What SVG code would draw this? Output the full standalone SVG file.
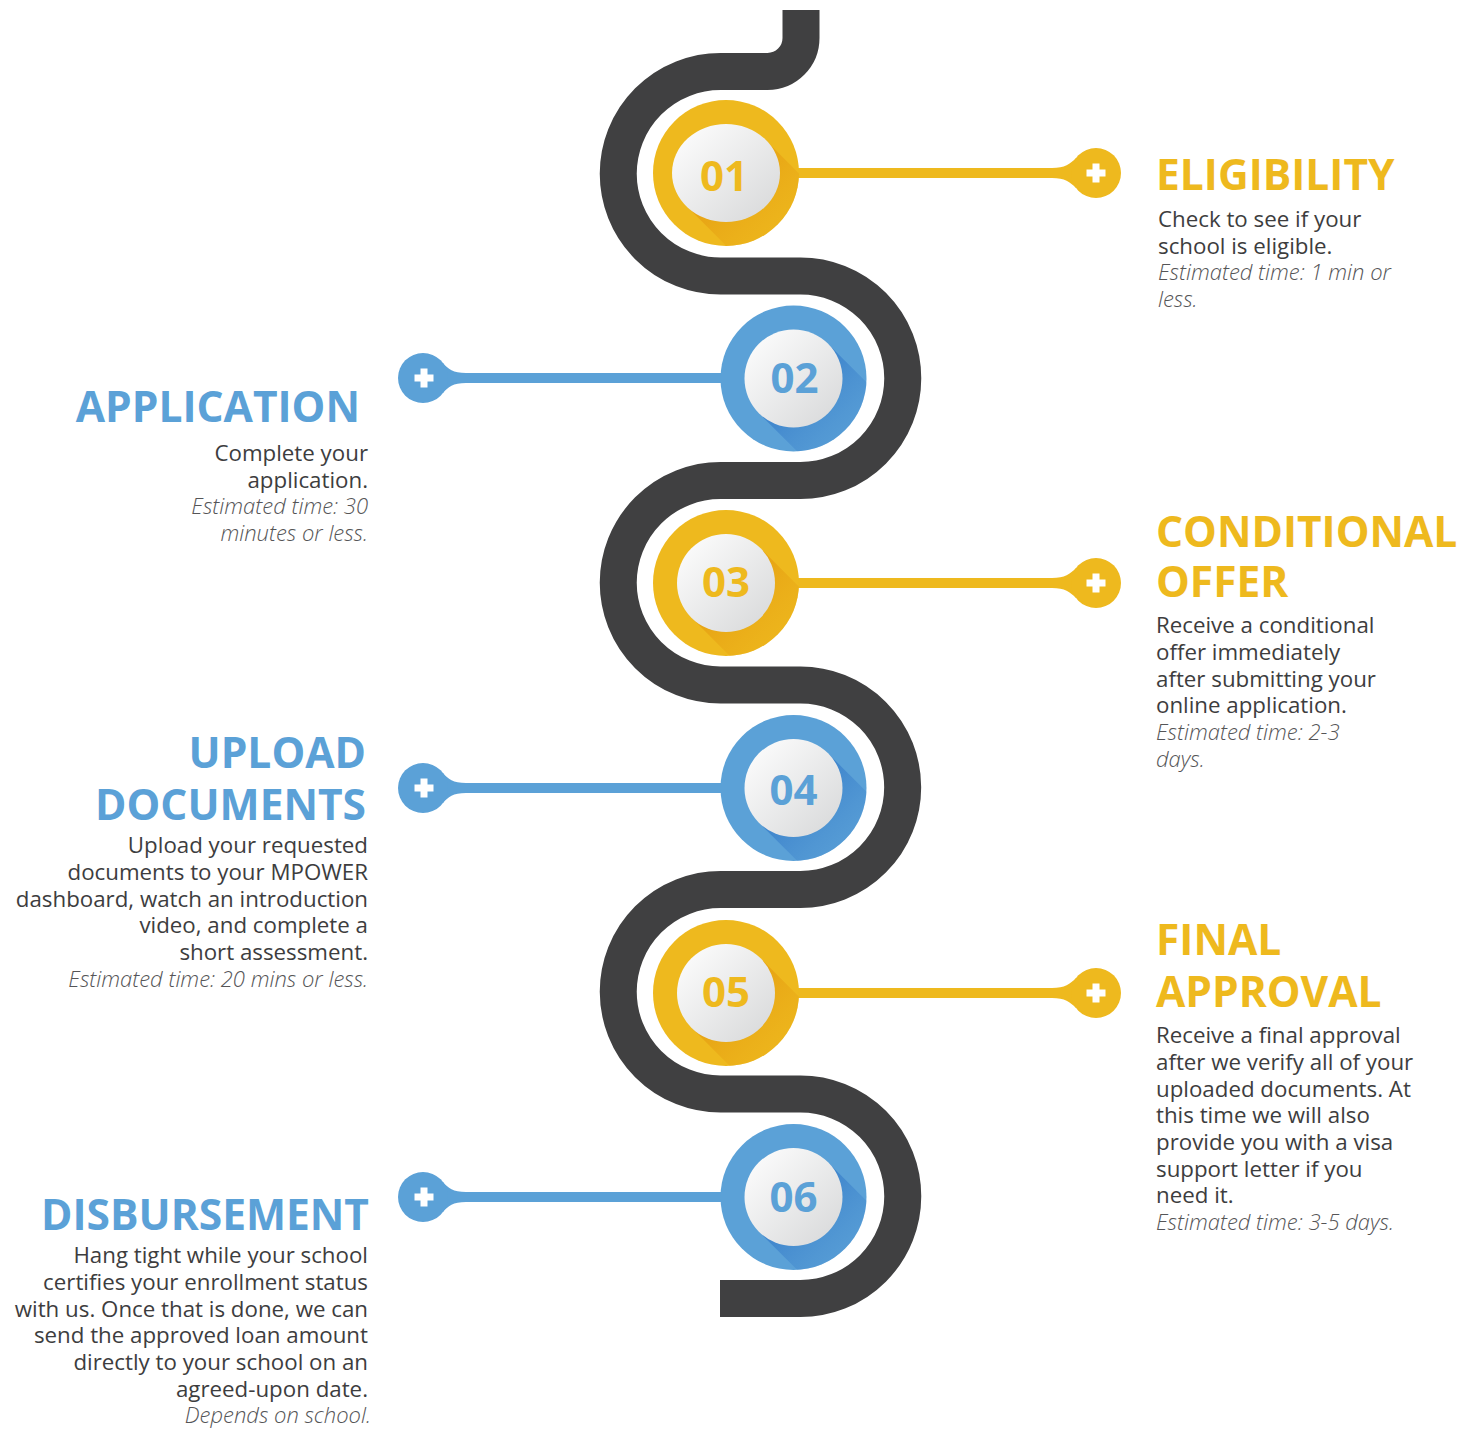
<svg xmlns="http://www.w3.org/2000/svg" width="1464" height="1431" viewBox="0 0 1464 1431">
<style>
.h{font-family:"Open Sans","Liberation Sans",sans-serif;font-weight:700;font-size:42.5px}
.y{fill:#EEB91E}
.b{fill:#5BA1D7}
.t{font-family:"Open Sans","Liberation Sans",sans-serif;font-size:22.3px;fill:#3d3d3e}
.i{font-family:"Open Sans","Liberation Sans",sans-serif;font-size:22px;font-style:italic;font-weight:300;fill:#555557}
.num{font-family:"Open Sans","Liberation Sans",sans-serif;font-weight:700;font-size:42px;text-anchor:middle}
.r{text-anchor:end}
.plus{fill:#fff}
</style>
<defs>
<clipPath id="ring" clipPathUnits="userSpaceOnUse"><circle cx="0" cy="0" r="73"/></clipPath>
<linearGradient id="wg" x1="0" y1="0" x2="1" y2="1">
<stop offset="0" stop-color="#ffffff"/><stop offset="1" stop-color="#d6d7d8"/>
</linearGradient>
<linearGradient id="sy" x1="0" y1="0" x2="1" y2="1">
<stop offset="0.2" stop-color="#E49A10" stop-opacity="0.9"/><stop offset="0.85" stop-color="#EEB91E" stop-opacity="0"/>
</linearGradient>
<linearGradient id="sb" x1="0" y1="0" x2="1" y2="1">
<stop offset="0.2" stop-color="#2E74C6" stop-opacity="0.8"/><stop offset="0.85" stop-color="#5BA1D7" stop-opacity="0"/>
</linearGradient>
<g id="plusmark"><rect x="-9.5" y="-3.5" width="19" height="7"/><rect x="-3.5" y="-9.5" width="7" height="19"/></g>
</defs>
<rect width="1464" height="1431" fill="#fff"/>
<g id="snake">
<path d="M 801 10 V 38 A 33.5 33.5 0 0 1 767.5 71.5 H 720.5 A 102.25 102.25 0 0 0 720.5 276 H 800.5 A 102.25 102.25 0 0 1 800.5 480.5 H 720.5 A 102.25 102.25 0 0 0 720.5 685 H 800.5 A 102.25 102.25 0 0 1 800.5 889.5 H 720.5 A 102.25 102.25 0 0 0 720.5 1094 H 800.5 A 102.25 102.25 0 0 1 800.5 1298.5 H 720" fill="none" stroke="#404041" stroke-width="37"/>
</g>
<g id="connectors">
<g class="y">
<rect x="726" y="168" width="370" height="10"/>
<path d="M 1052 168 C 1065 168 1070 164 1076 158 L 1076 188 C 1070 182 1065 178 1052 178 Z"/>
<rect x="726" y="578" width="370" height="10"/>
<path d="M 1052 578 C 1065 578 1070 574 1076 568 L 1076 598 C 1070 592 1065 588 1052 588 Z"/>
<rect x="726" y="988" width="370" height="10"/>
<path d="M 1052 988 C 1065 988 1070 984 1076 978 L 1076 1008 C 1070 1002 1065 998 1052 998 Z"/>
</g>
<g class="b">
<rect x="423" y="373" width="370" height="10"/>
<path d="M 466 373 C 453 373 448 369 443 363 L 443 393 C 448 387 453 383 466 383 Z"/>
<rect x="423" y="783" width="370" height="10"/>
<path d="M 466 783 C 453 783 448 779 443 773 L 443 803 C 448 797 453 793 466 793 Z"/>
<rect x="423" y="1192" width="370" height="10"/>
<path d="M 466 1192 C 453 1192 448 1188 443 1182 L 443 1212 C 448 1206 453 1202 466 1202 Z"/>
</g>
</g>
<g id="step1">
<g transform="translate(726,173)">
<circle r="73" class="y"/>
<polygon points="38,-34.6 -38,34.6 42,114.6 118,45.4" fill="url(#sy)" clip-path="url(#ring)"/>
<ellipse rx="54" ry="49" fill="url(#wg)"/>
<text class="num y" x="-2" y="18">01</text>
</g>
<circle cx="1096" cy="173" r="25" class="y"/>
<use href="#plusmark" x="1096" y="173" class="plus"/>
<text class="h y" x="1156" y="190">ELIGIBILITY</text>
<text class="t" x="1158" y="227">Check to see if your</text>
<text class="t" x="1158" y="254">school is eligible.</text>
<text class="i" x="1158" y="280">Estimated time: 1 min or</text>
<text class="i" x="1158" y="307">less.</text>
</g>
<g id="step2">
<g transform="translate(793.5,378.5)">
<circle r="73" class="b"/>
<polygon points="34.6,-34.6 -34.6,34.6 45.4,114.6 114.6,45.4" fill="url(#sb)" clip-path="url(#ring)"/>
<circle r="49" fill="url(#wg)"/>
<text class="num b" x="1" y="14">02</text>
</g>
<circle cx="423" cy="378" r="25" class="b"/>
<use href="#plusmark" x="424" y="378" class="plus"/>
<text class="h b r" x="360" y="422">APPLICATION</text>
<text class="t r" x="368" y="461">Complete your</text>
<text class="t r" x="368" y="488">application.</text>
<text class="i r" x="368" y="514">Estimated time: 30</text>
<text class="i r" x="368" y="541">minutes or less.</text>
</g>
<g id="step3">
<g transform="translate(726,583)">
<circle r="73" class="y"/>
<polygon points="34.6,-34.6 -34.6,34.6 45.4,114.6 114.6,45.4" fill="url(#sy)" clip-path="url(#ring)"/>
<circle r="49" fill="url(#wg)"/>
<text class="num y" x="0" y="14">03</text>
</g>
<circle cx="1096" cy="583" r="25" class="y"/>
<use href="#plusmark" x="1096" y="583" class="plus"/>
<text class="h y" x="1156" y="547">CONDITIONAL</text>
<text class="h y" x="1156" y="597">OFFER</text>
<text class="t" x="1156" y="633">Receive a conditional</text>
<text class="t" x="1156" y="660">offer immediately</text>
<text class="t" x="1156" y="687">after submitting your</text>
<text class="t" x="1156" y="713">online application.</text>
<text class="i" x="1156" y="740">Estimated time: 2-3</text>
<text class="i" x="1156" y="767">days.</text>
</g>
<g id="step4">
<g transform="translate(793.5,788)">
<circle r="73" class="b"/>
<polygon points="34.6,-34.6 -34.6,34.6 45.4,114.6 114.6,45.4" fill="url(#sb)" clip-path="url(#ring)"/>
<circle r="49" fill="url(#wg)"/>
<text class="num b" x="0" y="17">04</text>
</g>
<circle cx="423" cy="788" r="25" class="b"/>
<use href="#plusmark" x="424" y="788" class="plus"/>
<text class="h b r" x="366" y="768">UPLOAD</text>
<text class="h b r" x="366" y="820">DOCUMENTS</text>
<text class="t r" x="368" y="853">Upload your requested</text>
<text class="t r" x="368" y="880">documents to your MPOWER</text>
<text class="t r" x="368" y="907">dashboard, watch an introduction</text>
<text class="t r" x="368" y="933">video, and complete a</text>
<text class="t r" x="368" y="960">short assessment.</text>
<text class="i r" x="368" y="987">Estimated time: 20 mins or less.</text>
</g>
<g id="step5">
<g transform="translate(726,993)">
<circle r="73" class="y"/>
<polygon points="34.6,-34.6 -34.6,34.6 45.4,114.6 114.6,45.4" fill="url(#sy)" clip-path="url(#ring)"/>
<circle r="49" fill="url(#wg)"/>
<text class="num y" x="0" y="14">05</text>
</g>
<circle cx="1096" cy="993" r="25" class="y"/>
<use href="#plusmark" x="1096" y="993" class="plus"/>
<text class="h y" x="1156" y="955">FINAL</text>
<text class="h y" x="1156" y="1007">APPROVAL</text>
<text class="t" x="1156" y="1043">Receive a final approval</text>
<text class="t" x="1156" y="1070">after we verify all of your</text>
<text class="t" x="1156" y="1097">uploaded documents. At</text>
<text class="t" x="1156" y="1123">this time we will also</text>
<text class="t" x="1156" y="1150">provide you with a visa</text>
<text class="t" x="1156" y="1177">support letter if you</text>
<text class="t" x="1156" y="1203">need it.</text>
<text class="i" x="1156" y="1230">Estimated time: 3-5 days.</text>
</g>
<g id="step6">
<g transform="translate(793.5,1197)">
<circle r="73" class="b"/>
<polygon points="34.6,-34.6 -34.6,34.6 45.4,114.6 114.6,45.4" fill="url(#sb)" clip-path="url(#ring)"/>
<circle r="49" fill="url(#wg)"/>
<text class="num b" x="0" y="15">06</text>
</g>
<circle cx="423" cy="1197" r="25" class="b"/>
<use href="#plusmark" x="424" y="1197" class="plus"/>
<text class="h b r" x="369" y="1230">DISBURSEMENT</text>
<text class="t r" x="368" y="1263">Hang tight while your school</text>
<text class="t r" x="368" y="1290">certifies your enrollment status</text>
<text class="t r" x="368" y="1317">with us. Once that is done, we can</text>
<text class="t r" x="368" y="1343">send the approved loan amount</text>
<text class="t r" x="368" y="1370">directly to your school on an</text>
<text class="t r" x="368" y="1397">agreed-upon date.</text>
<text class="i r" x="371" y="1423">Depends on school.</text>
</g>
</svg>
